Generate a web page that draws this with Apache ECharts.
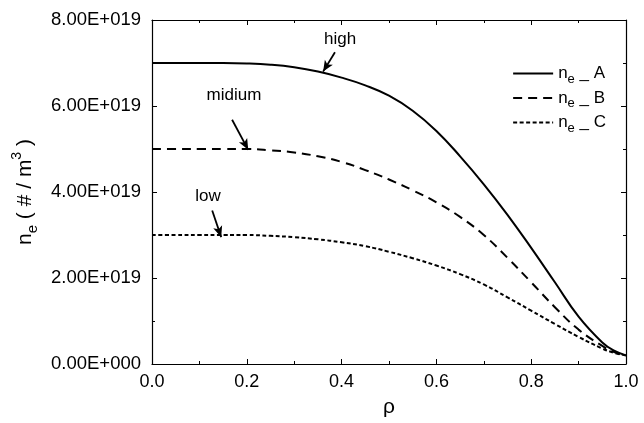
<!DOCTYPE html>
<html>
<head>
<meta charset="utf-8">
<script src="https://cdn.jsdelivr.net/npm/echarts@6/dist/echarts.min.js"></script>
<style>html,body{margin:0;padding:0;background:#fff}#c{width:644px;height:423px}</style>
</head>
<body>
<div id="c"></div>
<script>
// rho positions
var rho = [0, 0.05, 0.1, 0.15, 0.2, 0.25, 0.3, 0.35, 0.4, 0.45, 0.5, 0.55, 0.6, 0.65, 0.7, 0.75, 0.8, 0.85, 0.9, 0.95, 0.975, 1.0];
// values in units of 1e19 m^-3
var neA = [7.00, 7.00, 7.00, 7.00, 6.99, 6.96, 6.90, 6.80, 6.66, 6.48, 6.24, 5.89, 5.42, 4.83, 4.18, 3.47, 2.70, 1.90, 1.10, 0.50, 0.31, 0.20];
var neB = [5.00, 5.00, 5.00, 5.00, 5.00, 4.97, 4.92, 4.83, 4.70, 4.51, 4.29, 4.04, 3.76, 3.42, 3.00, 2.47, 1.90, 1.32, 0.80, 0.42, 0.28, 0.20];
var neC = [3.00, 3.00, 3.00, 3.00, 3.00, 2.98, 2.95, 2.90, 2.83, 2.74, 2.61, 2.46, 2.29, 2.09, 1.85, 1.55, 1.24, 0.93, 0.63, 0.36, 0.26, 0.20];
var seriesNames = ['A', 'B', 'C'];
var yTickLabels = ['0.00E+000', '2.00E+019', '4.00E+019', '6.00E+019', '8.00E+019'];
var SCALE = 1e19;

function pts(arr){ return rho.map(function(r,i){ return [r, arr[i]*SCALE]; }); }

var FONT = "'Liberation Sans', Arial, sans-serif";
var chart = echarts.init(document.getElementById('c'), null, {renderer:'canvas'});

var richNe = {
  n: {fontSize: 17, fontFamily: FONT, color: '#000', lineHeight: 24, verticalAlign: 'middle'},
  s: {fontSize: 13, fontFamily: FONT, color: '#000', lineHeight: 24, verticalAlign: 'bottom'}
};

function arrowMark(x1, y1, x2, y2){
  return {
    symbol: ['none', 'arrow'], symbolSize: [7, 11], silent: true, animation: false,
    label: {show: false},
    lineStyle: {color: '#000', width: 1.8, type: 'solid'},
    data: [[{coord: [x1, y1*SCALE]}, {coord: [x2, y2*SCALE]}]]
  };
}
function textMark(txt, x, y){
  return {
    symbol: 'circle', symbolSize: 0, silent: true, animation: false,
    label: {show: true, position: 'inside', formatter: txt, color: '#000', fontSize: 17, fontFamily: FONT},
    data: [{coord: [x, y*SCALE]}]
  };
}

function xAxisBase(){
  return {
    type: 'value', min: 0, max: 1, interval: 0.2,
    axisLine: {show: true, onZero: false, lineStyle: {color: '#000', width: 1.2}},
    axisTick: {show: true, inside: true, length: 5, lineStyle: {color: '#000'}},
    minorTick: {show: true, splitNumber: 2, length: 3, lineStyle: {color: '#000'}},
    splitLine: {show: false}
  };
}
function yAxisBase(){
  return {
    type: 'value', min: 0, max: 8e19, interval: 2e19,
    axisLine: {show: true, onZero: false, lineStyle: {color: '#000', width: 1.2}},
    axisTick: {show: true, inside: true, length: 5, lineStyle: {color: '#000'}},
    minorTick: {show: true, splitNumber: 2, length: 3, lineStyle: {color: '#000'}},
    splitLine: {show: false}
  };
}

function lineSeries(name, arr, dash, arrow, text){
  return {
    name: name, type: 'line', data: pts(arr), xAxisIndex: 0, yAxisIndex: 0,
    smooth: 0.45, symbol: 'none', showSymbol: false,
    lineStyle: {color: '#000', width: 2, type: dash},
    itemStyle: {color: '#000'},
    markLine: arrow,
    markPoint: text
  };
}

var option = {
  animation: false,
  backgroundColor: '#fff',
  grid: {left: 152, right: 18, top: 20, bottom: 51, containLabel: false},
  legend: {
    orient: 'vertical', right: 33, top: 60, itemWidth: 40, itemHeight: 14, itemGap: 4,
    data: seriesNames,
    itemStyle: {color: 'rgba(0,0,0,0)', borderWidth: 0, opacity: 0},
    formatter: function(name){ return '{n|n}{s|e}{n| _ ' + name + '}'; },
    textStyle: {rich: richNe}
  },
  xAxis: [
    Object.assign(xAxisBase(), {
      position: 'bottom',
      axisLabel: {show: true, color: '#000', fontSize: 18, fontFamily: FONT, margin: 9,
        formatter: function(v){ return v.toFixed(1); }},
      name: 'ρ', nameLocation: 'middle', nameGap: 33,
      nameTextStyle: {color: '#000', fontSize: 21, fontFamily: FONT}
    }),
    Object.assign(xAxisBase(), {position: 'top', axisLabel: {show: false}})
  ],
  yAxis: [
    Object.assign(yAxisBase(), {
      position: 'left',
      axisLabel: {show: true, color: '#000', fontSize: 18.5, fontFamily: FONT, margin: 11,
        formatter: function(v){ return yTickLabels[Math.round(v/2e19)]; }},
      name: '{n|n}{s|e}{n| ( # / m}{p|3}{n| )}', nameLocation: 'middle', nameGap: 112, nameRotate: 90,
      nameTextStyle: {
        rich: {
          n: {fontSize: 21, fontFamily: FONT, color: '#000', lineHeight: 30, verticalAlign: 'middle'},
          s: {fontSize: 15, fontFamily: FONT, color: '#000', lineHeight: 30, verticalAlign: 'bottom'},
          p: {fontSize: 14, fontFamily: FONT, color: '#000', lineHeight: 30, verticalAlign: 'top'}
        }
      }
    }),
    Object.assign(yAxisBase(), {position: 'right', axisLabel: {show: false}})
  ],
  series: [
    lineSeries('A', neA, 'solid', arrowMark(0.386, 7.25, 0.361, 6.80), textMark('high', 0.397, 7.55)),
    lineSeries('B', neB, [9, 6], arrowMark(0.169, 5.68, 0.203, 4.98), textMark('midium', 0.173, 6.25)),
    lineSeries('C', neC, [4, 2.5], arrowMark(0.127, 3.57, 0.146, 2.95), textMark('low', 0.118, 3.91)),
    {name: '_frame', type: 'line', data: [], xAxisIndex: 1, yAxisIndex: 1, silent: true}
  ]
};
chart.setOption(option);
</script>
</body>
</html>
